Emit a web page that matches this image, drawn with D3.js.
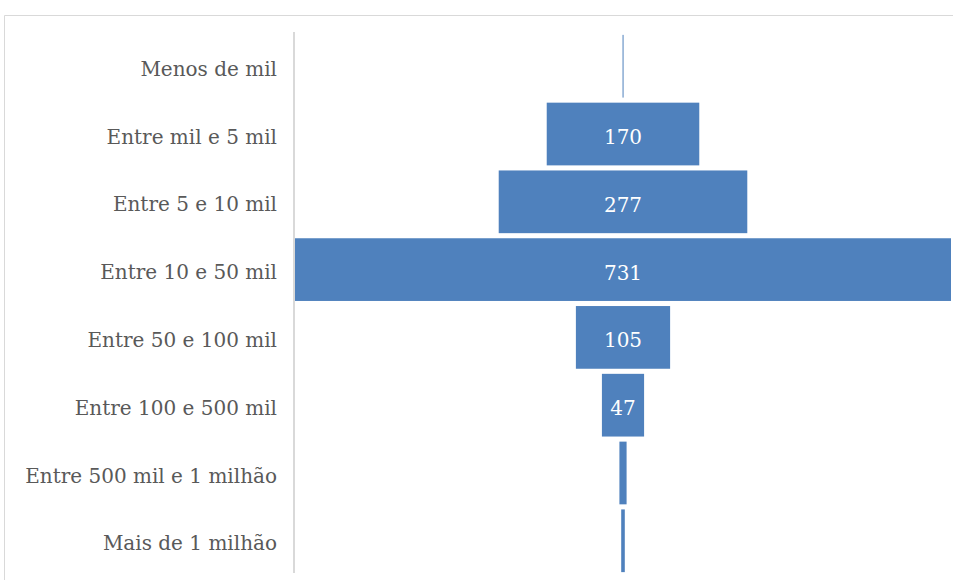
<!DOCTYPE html>
<html>
<head>
  <meta charset="utf-8">
  <title>Municípios por faixa de população</title>
  <script src="https://cdn.jsdelivr.net/npm/d3@7"></script>
  <style>
    body { margin: 0; background: #fff; }
    text { font-family: "DejaVu Serif", "Liberation Serif", serif; }
  </style>
</head>
<body>
  <div id="chart"></div>
  <script>
    // Faixas de população e número de municípios
    const categories = [
      "Menos de mil",
      "Entre mil e 5 mil",
      "Entre 5 e 10 mil",
      "Entre 10 e 50 mil",
      "Entre 50 e 100 mil",
      "Entre 100 e 500 mil",
      "Entre 500 mil e 1 milhão",
      "Mais de 1 milhão"
    ];
    const values = [1, 170, 277, 731, 105, 47, 8, 4];
    // only these get a label in the original
    const showLabel = [false, true, true, true, true, true, false, false];

    const width = 953, height = 580;
    const center = 623;
    const halfMax = 328;

    const svg = d3.select("#chart").append("svg")
        .attr("width", width)
        .attr("height", height);

    // chart area border
    svg.append("path")
        .attr("d", `M4.5,${height} V15.5 H${width}`)
        .attr("fill", "none")
        .attr("stroke", "#d9d9d9")
        .attr("stroke-width", 1);

    const y = d3.scaleBand()
        .domain(categories)
        .range([32.5, 574.5])
        .paddingInner(0.075)
        .paddingOuter(0.035);

    const w = d3.scaleLinear()
        .domain([0, d3.max(values)])
        .range([0, halfMax * 2]);

    const data = categories.map((c, i) => ({ cat: c, value: values[i], label: showLabel[i] }));

    // bars, centered like a funnel
    svg.selectAll(".bar")
        .data(data)
        .enter().append("rect")
        .attr("class", "bar")
        .attr("x", d => center - w(d.value) / 2)
        .attr("y", d => y(d.cat))
        .attr("width", d => Math.max(1, w(d.value)))
        .attr("height", y.bandwidth())
        .attr("fill", "#4f81bd");

    svg.selectAll(".val")
        .data(data.filter(d => d.label))
        .enter().append("text")
        .attr("class", "val")
        .attr("x", center)
        .attr("y", d => y(d.cat) + y.bandwidth() / 2)
        .attr("dy", "0.5em")
        .attr("text-anchor", "middle")
        .attr("fill", "#fff")
        .style("font-size", "20px")
        .text(d => d.value);

    // category axis
    const axis = svg.append("g")
        .attr("transform", "translate(294,0)")
        .call(d3.axisLeft(y).tickSize(0).tickPadding(17));
    axis.select(".domain")
        .attr("stroke", "#d9d9d9")
        .attr("stroke-width", 2)
        .attr("d", "M0,32V573");
    axis.selectAll("text")
        .attr("dy", "0.48em")
        .attr("fill", "#595959")
        .style("font-size", "20px")
        .style("font-family", "'DejaVu Serif', serif");
  </script>
</body>
</html>
